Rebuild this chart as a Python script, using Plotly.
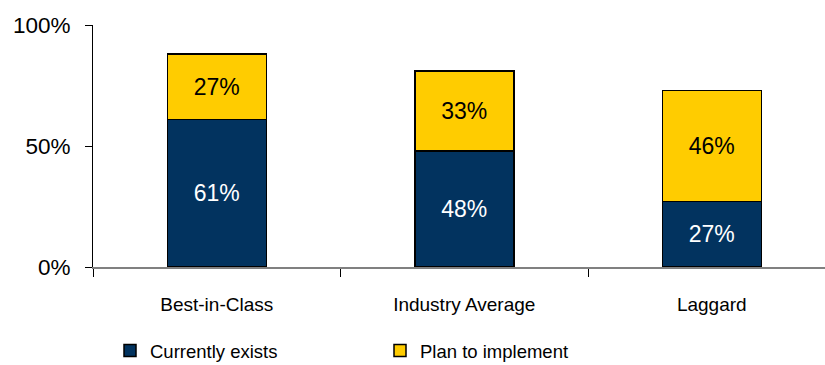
import plotly.graph_objects as go

categories = ["Best-in-Class", "Industry Average", "Laggard"]
currently_exists = [61, 48, 27]
plan_to_implement = [27, 33, 46]
y_ticks = [0, 50, 100]
y_tick_labels = ["0%", "50%", "100%"]

NAVY = "#02335F"
GOLD = "#FFCC00"
FONT = "Liberation Sans, Arial, sans-serif"

W, H = 825, 365
L, R, T, B = 93, 0, 25, 98

fig = go.Figure()
fig.add_trace(go.Bar(
    x=categories, y=currently_exists, name="Currently exists",
    marker=dict(color=NAVY, line=dict(color="#000000", width=1.5)),
    width=0.4,
    text=[f"{v}%" for v in currently_exists], textposition="inside",
    insidetextanchor="middle", textangle=0, constraintext="none",
    insidetextfont=dict(color="#FFFFFF", size=23, family=FONT),
    legend="legend",
))
fig.add_trace(go.Bar(
    x=categories, y=plan_to_implement, name="Plan to implement",
    marker=dict(color=GOLD, line=dict(color="#000000", width=1.5)),
    width=0.4,
    text=[f"{v}%" for v in plan_to_implement], textposition="inside",
    insidetextanchor="middle", textangle=0, constraintext="none",
    insidetextfont=dict(color="#000000", size=23, family=FONT),
    legend="legend2",
))

plot_w = W - L - R
unit = 247.5
x_hi = -0.5 + plot_w / unit

legend_common = dict(
    orientation="h", xref="container", yref="container",
    yanchor="middle", xanchor="left",
    font=dict(family=FONT, size=18.5, color="#000000"),
    bgcolor="rgba(0,0,0,0)", borderwidth=0,
)

fig.update_layout(
    width=W, height=H,
    margin=dict(l=L, r=R, t=T, b=B, pad=0),
    barmode="stack",
    paper_bgcolor="#FFFFFF", plot_bgcolor="#FFFFFF",
    font=dict(family=FONT, color="#000000"),
    showlegend=True,
    legend=dict(x=110 / W, y=1 - 351 / H, **legend_common),
    legend2=dict(x=380 / W, y=1 - 351 / H, **legend_common),
    xaxis=dict(
        type="category", range=[-0.5, x_hi],
        showline=True, linecolor="#808080", linewidth=1.5,
        ticks="outside", tickson="boundaries", ticklen=8, tickcolor="#000000", tickwidth=1,
        showgrid=False, zeroline=False,
        tickfont=dict(family=FONT, size=19, color="#000000"),
        ticklabelstandoff=19,
    ),
    yaxis=dict(
        range=[0, 100], tickvals=y_ticks, ticktext=y_tick_labels,
        showline=True, linecolor="#000000", linewidth=1,
        ticks="outside", ticklen=7, tickcolor="#000000", tickwidth=1,
        showgrid=False, zeroline=False,
        tickfont=dict(family=FONT, size=22.5, color="#000000"),
        ticklabelstandoff=10,
    ),
)

fig.write_html("out.html")
